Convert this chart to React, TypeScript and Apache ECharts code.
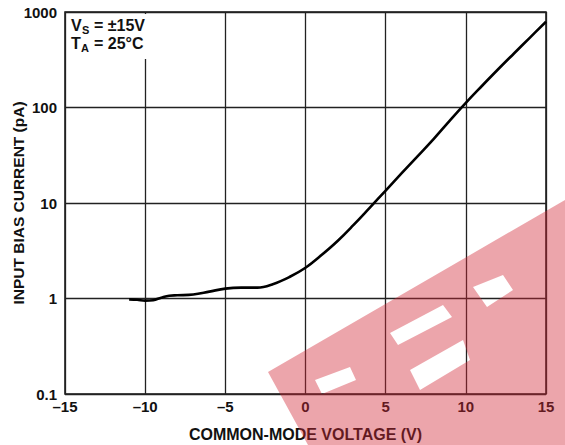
import React, { useEffect, useRef } from "react";
import * as echarts from "echarts";

const voltage = [-11, -10.5, -10, -9.5, -9, -8.5, -8, -7, -6, -5, -4, -3, -2, -1, 0, 1, 2, 3, 4, 5, 6, 7, 8, 9, 10, 11, 12, 13, 14, 15];
const biasCurrent = [0.98, 0.97, 0.95, 0.96, 1.02, 1.07, 1.08, 1.1, 1.18, 1.27, 1.3, 1.3, 1.42, 1.68, 2.1, 2.85, 4.0, 5.9, 8.9, 13.5, 20.5, 31, 47, 73, 112, 168, 250, 368, 540, 790];
const xTicks = { min: -15, max: 15, interval: 5 };
const yTicks = { min: 0.1, max: 1000 };

const FONT = "'Liberation Sans', Arial, sans-serif";

const WATERMARK =
  "M268 372 L565 200 L565 445 L308 445 Z " +
  "M390 333 L398 345 L452 317 L443 305 Z " +
  "M410 370 L420 390 L470 360 L463 340 Z " +
  "M315 380 L322 394 L356 380 L350 367 Z " +
  "M473 287 L487 307 L513 290 L503 275 Z";

export default function App() {
  const ref = useRef<HTMLDivElement>(null);
  useEffect(() => {
    if (!ref.current) return;
    try {
      echarts.graphic.registerShape("wm", echarts.graphic.extendPath(WATERMARK, {}));
    } catch (e) {}
    const chart = echarts.init(ref.current, null, { renderer: "svg" });
    const data = voltage.map((v, i) => [v, biasCurrent[i]]);
    chart.setOption({
      animation: false,
      backgroundColor: "#fff",
      grid: {
        left: 65,
        right: 19,
        top: 12,
        bottom: 51,
        outerBoundsMode: "none",
        containLabel: false,
        show: true,
        borderColor: "#111",
        borderWidth: 1.5,
        backgroundColor: "transparent",
      },
      xAxis: {
        type: "value",
        min: xTicks.min,
        max: xTicks.max,
        interval: xTicks.interval,
        name: "COMMON-MODE VOLTAGE (V)",
        nameLocation: "middle",
        nameGap: 32,
        nameMoveOverlap: false,
        nameTextStyle: { fontFamily: FONT, fontWeight: "bold", fontSize: 16, color: "#111" },
        axisLine: { show: false },
        axisTick: { show: false },
        axisLabel: {
          fontFamily: FONT,
          fontWeight: "bold",
          fontSize: 15,
          color: "#111",
          margin: 5,
          formatter: (v: number) => (v < 0 ? "\u2013" + Math.abs(v) : String(v)),
        },
        splitLine: { show: true, lineStyle: { color: "#222", width: 1.3 } },
      },
      yAxis: {
        type: "log",
        logBase: 10,
        min: yTicks.min,
        max: yTicks.max,
        name: "INPUT BIAS CURRENT (pA)",
        nameLocation: "middle",
        nameGap: 39,
        nameMoveOverlap: false,
        nameTextStyle: { fontFamily: FONT, fontWeight: "bold", fontSize: 15.5, color: "#111" },
        axisLine: { show: false },
        axisTick: { show: false },
        minorTick: { show: false },
        axisLabel: {
          fontFamily: FONT,
          fontWeight: "bold",
          fontSize: 15,
          color: "#111",
          margin: 8,
          formatter: (v: number) => (v < 1 ? "0.1" : String(Math.round(v))),
        },
        splitLine: { show: true, lineStyle: { color: "#222", width: 1.3 } },
      },
      series: [
        {
          type: "line",
          data,
          smooth: 0.4,
          showSymbol: false,
          lineStyle: { color: "#000", width: 2.6 },
          z: 5,
        },
      ],
      graphic: [
        { type: "rect", z: 50, shape: { x: 67, y: 14, width: 92, height: 45 }, style: { fill: "#fff" } },
        { type: "text", z: 51, x: 71, y: 17, style: { text: "V", font: `bold 16px ${FONT}`, fill: "#111" } },
        { type: "text", z: 51, x: 82, y: 24, style: { text: "S", font: `bold 11px ${FONT}`, fill: "#111" } },
        { type: "text", z: 51, x: 94, y: 17, style: { text: "= \u00b115V", font: `bold 16px ${FONT}`, fill: "#111" } },
        { type: "text", z: 51, x: 71, y: 35, style: { text: "T", font: `bold 16px ${FONT}`, fill: "#111" } },
        { type: "text", z: 51, x: 81, y: 42, style: { text: "A", font: `bold 11px ${FONT}`, fill: "#111" } },
        { type: "text", z: 51, x: 94, y: 35, style: { text: "= 25\u00b0C", font: `bold 16px ${FONT}`, fill: "#111" } },
        { type: "wm", z: 100, x: 0, y: 0, style: { fill: "rgba(210,40,55,0.42)" } },
      ],
    });
    return () => chart.dispose();
  }, []);
  return <div ref={ref} style={{ position: "fixed", left: 0, top: 0, width: 565, height: 445 }} />;
}
